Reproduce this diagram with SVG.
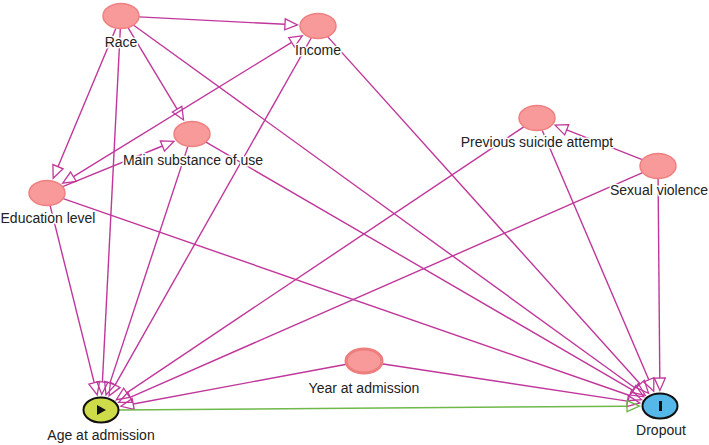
<svg xmlns="http://www.w3.org/2000/svg" width="709" height="445" viewBox="0 0 709 445">
<style>
.e{fill:none;stroke:#c0379b;stroke-width:1.4}
.g{fill:none;stroke:#6fb84a;stroke-width:1.5}
.n{fill:#f99a9a;stroke:#ee8080;stroke-width:1.5}
.nb{fill:#f99a9a;stroke:#ee7d7d;stroke-width:3}
.lbl{font-family:"Liberation Sans",Arial,sans-serif;font-size:14px;fill:#222;text-anchor:middle;stroke:#fff;stroke-width:3;paint-order:stroke;stroke-linejoin:round}
</style>
<defs>
<marker id="a" markerUnits="userSpaceOnUse" markerWidth="14" markerHeight="12" refX="0" refY="6" orient="auto-start-reverse" overflow="visible">
<path d="M0,0.5 L12.5,6 L0,11.5 Z" fill="none" stroke="#c0379b" stroke-width="1.3"/>
</marker>
<marker id="ag" markerUnits="userSpaceOnUse" markerWidth="14" markerHeight="12" refX="0" refY="6" orient="auto" overflow="visible">
<path d="M0,0.5 L12.5,6 L0,11.5 Z" fill="none" stroke="#6fb84a" stroke-width="1.3"/>
</marker>
</defs>
<rect width="709" height="445" fill="#fff"/>
<g id="edges">
<path class="e" d="M139,16.9 L285,24.3" marker-end="url(#a)"/>
<path class="e" d="M128.2,27.9 L177.1,109.2" marker-end="url(#a)"/>
<path class="e" d="M115.8,28.4 L58,166.7" marker-end="url(#a)"/>
<path class="e" d="M120.3,29 L102.4,382" marker-end="url(#a)"/>
<path class="e" d="M133.7,25.2 L635.1,388" marker-end="url(#a)"/>
<path class="e" d="M311.2,38 L115.2,384.9" marker-end="url(#a)"/>
<path class="e" d="M327.8,36.9 L640.2,384" marker-end="url(#a)"/>
<path class="e" d="M73.4,176.7 L291.6,42.3" marker-start="url(#a)" marker-end="url(#a)"/>
<path class="e" d="M62.7,186.6 L162.4,146" marker-end="url(#a)"/>
<path class="e" d="M187.8,146.6 L109.9,383.1" marker-end="url(#a)"/>
<path class="e" d="M206,142.2 L633,390.3" marker-end="url(#a)"/>
<path class="e" d="M50.2,205.8 L94.2,382.7" marker-end="url(#a)"/>
<path class="e" d="M63.2,198.6 L629.7,395.5" marker-end="url(#a)"/>
<path class="e" d="M523.8,126.8 L126.7,392.8" marker-end="url(#a)"/>
<path class="e" d="M542.3,130.4 L648.8,379.8" marker-end="url(#a)"/>
<path class="e" d="M642.2,159.7 L566.7,129.8" marker-end="url(#a)"/>
<path class="e" d="M642.6,172.7 L130.1,397.3" marker-end="url(#a)"/>
<path class="e" d="M658.1,179 L659.8,378" marker-end="url(#a)"/>
<path class="e" d="M346.6,364.3 L133.2,404" marker-end="url(#a)"/>
<path class="e" d="M381.6,363.7 L627.5,401.1" marker-end="url(#a)"/>
<path class="g" d="M119,409.9 L627,406.2" marker-end="url(#ag)"/>
</g>
<g id="race"><ellipse class="n" cx="121" cy="16" rx="18" ry="12.5"/><text class="lbl" x="121" y="47">Race</text></g>
<g id="income"><ellipse class="n" cx="318" cy="26" rx="18" ry="12.5"/><text class="lbl" x="318" y="55">Income</text></g>
<g id="main-substance"><ellipse class="n" cx="192" cy="134" rx="18" ry="12.5"/><text class="lbl" x="193" y="165">Main substance of use</text></g>
<g id="education"><ellipse class="n" cx="47" cy="193" rx="18" ry="12.5"/><text class="lbl" x="48" y="223">Education level</text></g>
<g id="previous-suicide"><ellipse class="n" cx="537" cy="118" rx="18" ry="12.5"/><text class="lbl" x="537" y="147">Previous suicide attempt</text></g>
<g id="sexual-violence"><ellipse class="n" cx="658" cy="166" rx="18" ry="12.5"/><text class="lbl" x="659" y="195">Sexual violence</text></g>
<g id="year"><ellipse class="nb" cx="364" cy="361" rx="18" ry="12"/><text class="lbl" x="364" y="393">Year at admission</text></g>
<g id="age"><ellipse cx="101" cy="410" rx="17.5" ry="12.5" fill="#cddc48" stroke="#111" stroke-width="2"/><path d="M97,405 L106,410 L97,415 Z" fill="#111"/><text class="lbl" x="101" y="440">Age at admission</text></g>
<g id="dropout"><ellipse cx="660" cy="406" rx="17.5" ry="12.5" fill="#55b8e8" stroke="#111" stroke-width="2"/><rect x="659" y="401" width="3" height="10" fill="#111"/><text class="lbl" x="661" y="435">Dropout</text></g>
</svg>
